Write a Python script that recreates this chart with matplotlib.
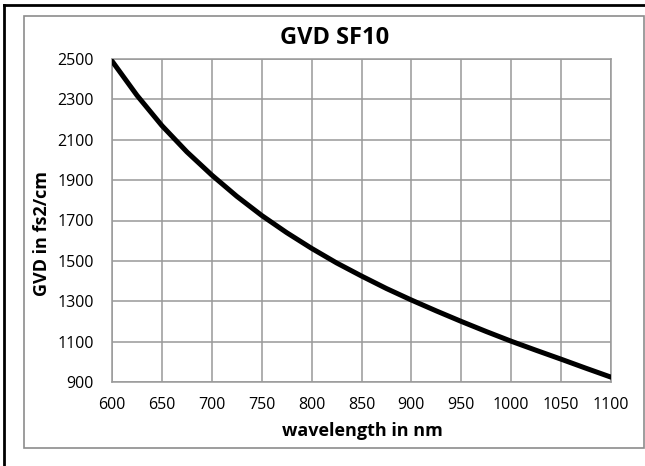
import numpy as np
import matplotlib
matplotlib.use("Agg")
import matplotlib.pyplot as plt
from matplotlib.patches import Rectangle
from matplotlib.lines import Line2D

plt.rcParams['font.family'] = ['Open Sans', 'DejaVu Sans']

# values (every 25 nm)
wavelength = [600, 625, 650, 675, 700, 725, 750, 775, 800, 825, 850,
              875, 900, 925, 950, 975, 1000, 1025, 1050, 1075, 1100]
gvd = [2490, 2320, 2170, 2040, 1925, 1820, 1725, 1640, 1562, 1490, 1425,
       1363, 1306, 1252, 1200, 1150, 1102, 1057, 1013, 968, 924]
x_ticks = [600, 650, 700, 750, 800, 850, 900, 950, 1000, 1050, 1100]
y_ticks = [900, 1100, 1300, 1500, 1700, 1900, 2100, 2300, 2500]

W, H = 645, 466
fig = plt.figure(figsize=(W / 100, H / 100), dpi=100)
ax = fig.add_axes([112 / W, 1 - 382 / H, (611 - 112) / W, (382 - 59) / H])

ax.plot(wavelength, gvd, color='black', lw=3.6, solid_capstyle='round',
        solid_joinstyle='round', zorder=3)

ax.set_xlim(600, 1100)
ax.set_ylim(900, 2500)
ax.set_xticks(x_ticks)
ax.set_yticks(y_ticks)
ax.tick_params(length=0, labelsize=11.5)
ax.tick_params(axis='x', pad=11)
ax.tick_params(axis='y', pad=13)
ax.grid(True, color='#999999', lw=1.1)
for s in ax.spines.values():
    s.set_color('#999999')
    s.set_linewidth(1.1)

fig.text(335 / W, 1 - 38 / H, 'GVD SF10', ha='center', va='center',
         fontsize=17, fontweight='bold')
fig.text(362 / W, 1 - 431 / H, 'wavelength in nm', ha='center', va='center',
         fontsize=13, fontweight='bold')
fig.text(42 / W, 1 - 233 / H, 'GVD in fs2/cm', ha='center', va='center',
         rotation=90, fontsize=13, fontweight='bold')

# chart area frame and outer border
fig.add_artist(Rectangle((24 / W, 1 - 448 / H), (644 - 24) / W, (448 - 16) / H,
                         transform=fig.transFigure, fill=False,
                         edgecolor='#8c8c8c', lw=1.2))
fig.add_artist(Line2D([4 / W, 1], [1 - 5 / H, 1 - 5 / H], transform=fig.transFigure,
                      color='black', lw=2))
fig.add_artist(Line2D([4 / W, 4 / W], [0, 1 - 5 / H], transform=fig.transFigure,
                      color='black', lw=2))

fig.savefig('out.png', dpi=100)
